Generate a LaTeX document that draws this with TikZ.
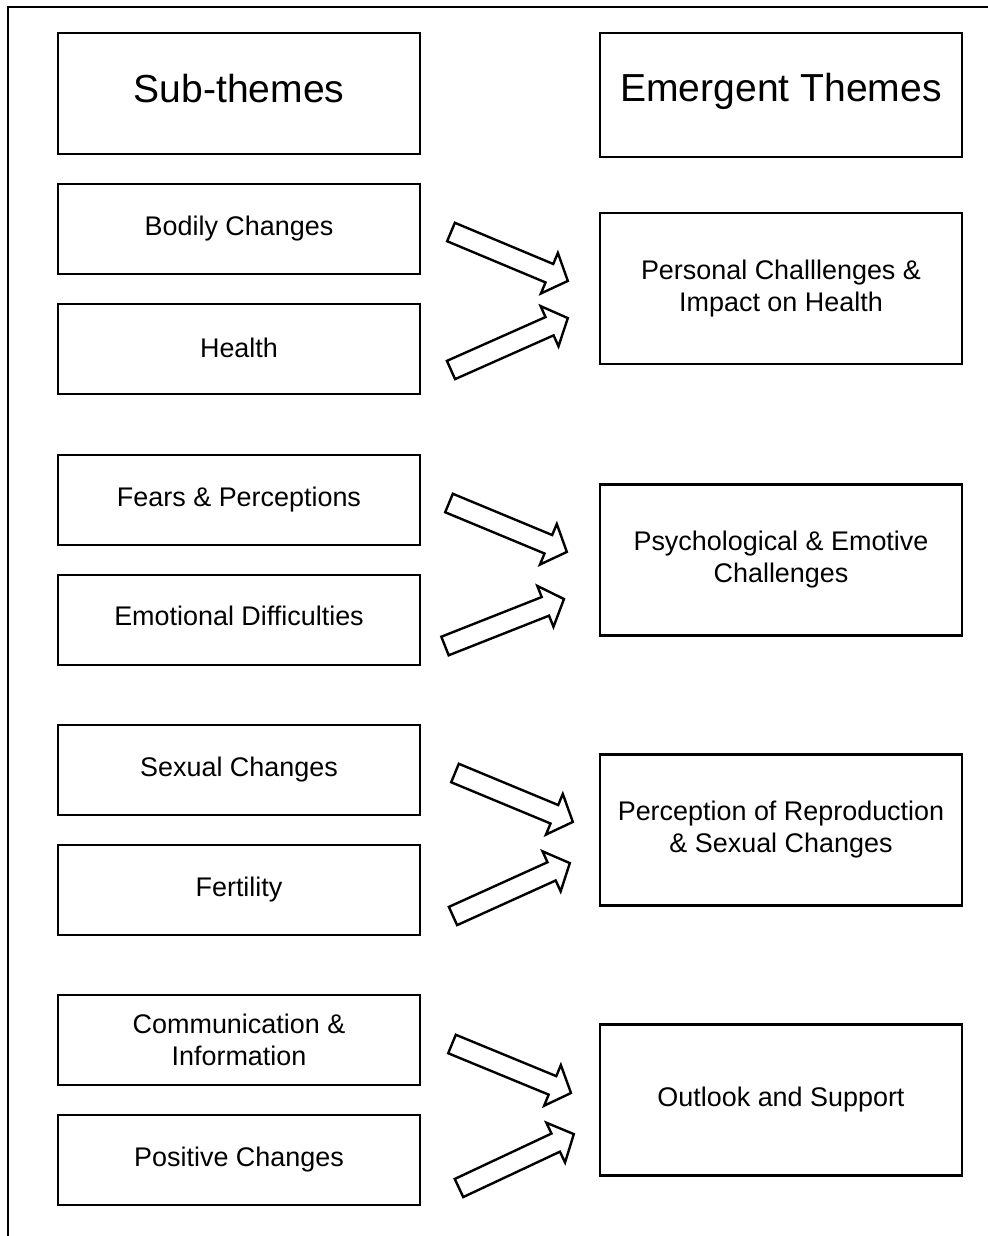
\documentclass[tikz,border=0pt]{standalone}
\usepackage{fontspec}
\setmainfont{Liberation Sans}
\usetikzlibrary{calc}
\tikzset{
  box/.style={draw, line width=1.6pt, align=center, inner sep=2pt,
    minimum width=271.5pt, font=\fontsize{20.2}{24}\selectfont},
  subbox/.style={box, minimum height=67.5pt},
  themebox/.style={box, minimum height=113.25pt},
  headbox/.style={box, font=\fontsize{29.3}{35}\selectfont},
  blockar/.style={draw, line width=1.8pt, line join=miter, fill=white},
  frame/.style={line width=2pt}
}
\newcommand\blkarrow[2]{%
  \path let \p1=(#1), \p2=(#2),
    \n1={atan2(\y2-\y1,\x2-\x1)}, \n2={veclen(\x2-\x1,\y2-\y1)} in
    \pgfextra{\xdef\arang{\n1}\xdef\arlen{\n2}};
  \draw[blockar, shift={(#1)}, rotate=\arang]
    (0pt,-7.5pt) -- ({(\arlen-15)*1pt},-7.5pt) -- ({(\arlen-15)*1pt},-16.5pt)
    -- ({\arlen*1pt},0pt) -- ({(\arlen-15)*1pt},16.5pt)
    -- ({(\arlen-15)*1pt},7.5pt) -- (0pt,7.5pt) -- cycle;
}
\begin{document}
\begin{tikzpicture}[x=0.75pt, y=-0.75pt]
\useasboundingbox (0,0) rectangle (988,1236);
\coordinate (fbl) at (8,1240);
\coordinate (ftl) at (8,7);
\coordinate (ftr) at (992,7);
\draw[frame] (fbl) -- (ftl) -- (ftr);

% headers
\node[headbox, minimum height=90.75pt, text depth=7pt] (hsub) at (239,93.5) {Sub-themes};
\node[headbox, minimum height=93pt, text depth=11pt] (hemg) at (781,95) {Emergent Themes};

% sub-theme boxes
\node[subbox] (s1) at (239,229) {Bodily Changes};
\node[subbox, text depth=2pt] (s2) at (239,349) {Health};
\node[subbox] (s3) at (239,500) {Fears \& Perceptions};
\node[subbox, text depth=6pt] (s4) at (239,620) {Emotional Difficulties};
\node[subbox] (s5) at (239,770) {Sexual Changes};
\node[subbox] (s6) at (239,890) {Fertility};
\node[subbox] (s7) at (239,1040) {Communication \&\\Information};
\node[subbox] (s8) at (239,1160) {Positive Changes};

% theme boxes
\node[themebox] (t1) at (781,288.5) {Personal Challlenges \&\\Impact on Health};
\node[themebox] (t2) at (781,560) {Psychological \& Emotive\\Challenges};
\node[themebox] (t3) at (781,830) {Perception of Reproduction\\\& Sexual Changes};
\node[themebox] (t4) at (781,1100) {Outlook and Support};

% arrow end points
\coordinate (a1s) at (451,232);  \coordinate (a1e) at (568,281);
\coordinate (a2s) at (451,370);  \coordinate (a2e) at (568,318);
\coordinate (a3s) at (449,503);  \coordinate (a3e) at (567,552);
\coordinate (a4s) at (445,646);  \coordinate (a4e) at (564,599);
\coordinate (a5s) at (455,773);  \coordinate (a5e) at (573,822);
\coordinate (a6s) at (453,916);  \coordinate (a6e) at (570,863);
\coordinate (a7s) at (452,1044); \coordinate (a7e) at (571,1093);
\coordinate (a8s) at (459,1188); \coordinate (a8e) at (574,1134);

\blkarrow{a1s}{a1e}
\blkarrow{a2s}{a2e}
\blkarrow{a3s}{a3e}
\blkarrow{a4s}{a4e}
\blkarrow{a5s}{a5e}
\blkarrow{a6s}{a6e}
\blkarrow{a7s}{a7e}
\blkarrow{a8s}{a8e}
\end{tikzpicture}
\end{document}
